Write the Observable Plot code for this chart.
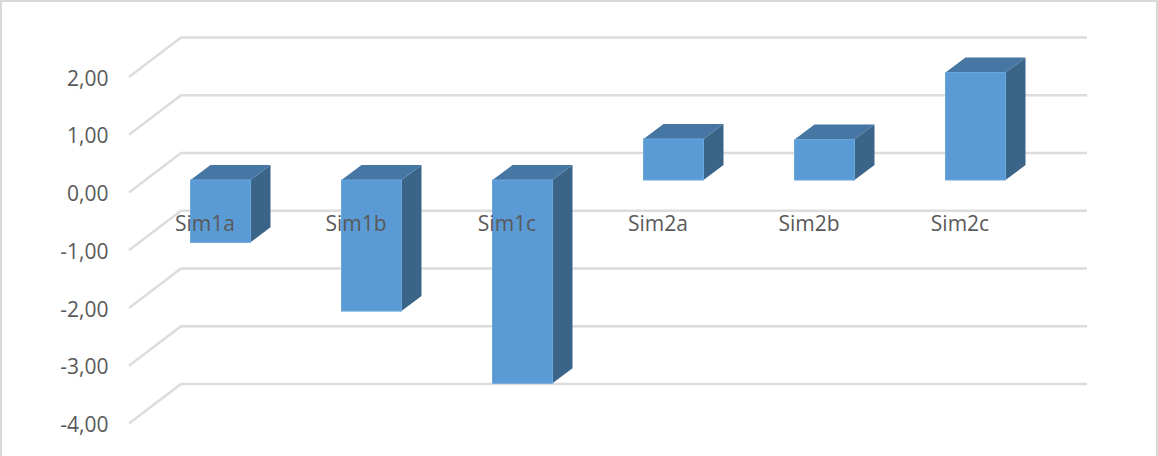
<!DOCTYPE html>
<html>
<head>
<meta charset="utf-8">
<script src="https://cdn.jsdelivr.net/npm/d3@7"></script>
<script src="https://cdn.jsdelivr.net/npm/@observablehq/plot@0.6"></script>
<style>
html,body{margin:0;padding:0;background:#fff;overflow:hidden}
#chart{position:relative;width:1158px;height:456px;box-sizing:border-box}
#chart svg{display:block}
</style>
</head>
<body>
<div id="chart"></div>
<script>
const categories = ["Sim1a","Sim1b","Sim1c","Sim2a","Sim2b","Sim2c"];
const values = [-1.08,-2.27,-3.52,0.71,0.70,1.86];
const gridValues = [-4,-3,-2,-1,0,1,2];
const data = categories.map((c,i)=>({c,v:values[i]}));

const NS = "http://www.w3.org/2000/svg";
function poly(parent, pts, fill){
  const p = document.createElementNS(NS,"polygon");
  p.setAttribute("points", pts.map(q=>q.join(",")).join(" "));
  p.setAttribute("fill", fill);
  parent.appendChild(p);
}
// each gridline: oblique floor segment, then the back-wall run
const gridlines = (index, {y}, values, {width, marginLeft, marginRight}) => {
  const g = document.createElementNS(NS,"g");
  for (const v of gridValues) {
    const l = document.createElementNS(NS,"polyline");
    const f = y(v), b = f-39.5;
    l.setAttribute("points",`${marginLeft},${f} ${marginLeft+52},${b} ${width-marginRight+52},${b}`);
    l.setAttribute("fill","none");
    l.setAttribute("stroke","#dcdcdc"); l.setAttribute("stroke-width",2.4);
    g.appendChild(l);
  }
  return g;
};
// side and top faces of each bar, offset from its front face
const faces = (index, {x,y}) => {
  const g = document.createElementNS(NS,"g");
  const w = x.bandwidth();
  for (const d of data) {
    const x0 = x(d.c)+16.5, x1 = x0+w;
    const yTop = y(Math.max(d.v,0))-12.5, yBot = y(Math.min(d.v,0))-12.5;
    poly(g,[[x1,yTop],[x1+20,yTop-15],[x1+20,yBot-15],[x1,yBot]],"#3a6488");
    poly(g,[[x0,yTop],[x0+20,yTop-15],[x1+20,yTop-15],[x1,yTop]],"#4676a3");
  }
  return g;
};

const plot = Plot.plot({
  width:1158, height:456,
  marginLeft:129, marginRight:123, marginTop:77, marginBottom:32.5,
  style:{background:"#fff",fontFamily:"'Open Sans',sans-serif",fontSize:"21px",color:"#595959"},
  x:{type:"band",domain:categories,paddingInner:0.6,paddingOuter:0.3,axis:null},
  y:{domain:[-4,2]},
  marks:[
    gridlines,
    faces,
    Plot.barY(data,{x:"c",y:"v",fill:"#5b9bd5",stroke:"#6ba6dc",strokeWidth:1,dx:16.5,dy:-12.5}),
    Plot.axisY({ticks:gridValues,tickSize:0,tickPadding:21,label:null,fontSize:21,dy:1.5,
      tickFormat:d=>d3.format(".2f")(d).replace("−","-").replace(".",",")}),
    Plot.text(categories,{x:d=>d,y:categories.map(()=>0),dy:31.5,dx:0.5,fontSize:21,fill:"#595959"})
  ]
});
const chart = document.getElementById("chart");
chart.appendChild(plot);
const frame = document.createElement("div");
frame.style.cssText="position:absolute;inset:0;border:2px solid #d9d9d9;border-bottom:none;box-sizing:border-box;pointer-events:none";
chart.appendChild(frame);
</script>
</body>
</html>
